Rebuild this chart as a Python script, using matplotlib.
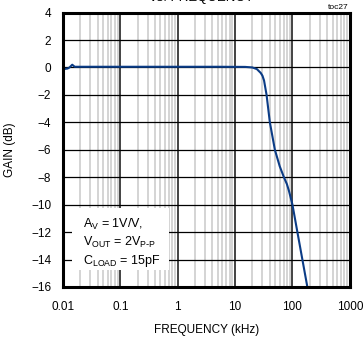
import numpy as np
import matplotlib.pyplot as plt
from matplotlib.ticker import FixedLocator, NullFormatter
from matplotlib.patches import Rectangle

plt.rcParams['font.family'] = ['Liberation Sans', 'DejaVu Sans']

# gain vs frequency
freq_khz = [0.010, 0.011, 0.012, 0.013, 0.0145, 0.016, 0.018, 0.03, 0.1, 1, 5,
            15, 20, 24, 28, 30, 32, 35.4, 40.4, 49.4, 60, 71, 80, 87,
            100, 122, 149, 182]
gain_db = [-0.15, -0.1, -0.08, 0.0, 0.2, 0.05, 0.05, 0.05, 0.05, 0.05, 0.05,
           0.04, 0.0, -0.12, -0.4, -0.6, -0.95, -2.0, -4.0, -6.0, -7.2, -8.0, -8.5, -9.0,
           -10.0, -12.0, -14.0, -16.0]

x_ticks = [0.01, 0.1, 1, 10, 100, 1000]
x_ticklabels = ['0.01', '0.1', '1', '10', '100', '1000']
y_ticks = [4, 2, 0, -2, -4, -6, -8, -10, -12, -14, -16]

note_lines = ['$\\mathregular{A_V}$ = 1V/V,',
              '$\\mathregular{V_{OUT}}$ = 2$\\mathregular{V_{P\\text{-}P}}$',
              '$\\mathregular{C_{LOAD}}$ = 15pF']

fig = plt.figure(figsize=(3.64, 3.40), dpi=100)
ax = fig.add_axes([0.173, 0.156, 0.788, 0.807])

ax.set_xscale('log')
ax.set_xlim(0.01, 1000)
ax.set_ylim(-16, 4)

# minor grid (light grey) then major grid (black)
minors = [m * 10.0 ** e for e in range(-2, 3) for m in range(2, 10)]
ax.xaxis.set_minor_locator(FixedLocator(minors))
ax.xaxis.set_minor_formatter(NullFormatter())
for m in minors:
    ax.axvline(m, color='#d4d4d4', lw=1.4, zorder=1)
for xt in x_ticks[1:-1]:
    ax.axvline(xt, color='#222222', lw=1.2, zorder=2)
for yt in y_ticks[1:-1]:
    ax.axhline(yt, color='black', lw=0.9, zorder=2)

ax.plot(freq_khz, gain_db, color='#0b3c86', lw=1.5, zorder=5)

ax.set_xticks(x_ticks)
ax.set_xticklabels(x_ticklabels)
ax.set_yticks(y_ticks)
ax.tick_params(which='both', length=0, labelsize=8.5)
ax.tick_params(axis='y', pad=8.5)
ax.tick_params(axis='x', pad=10)

for sp in ax.spines.values():
    sp.set_linewidth(2.2)
    sp.set_zorder(6)

ax.set_xlabel('FREQUENCY (kHz)', fontsize=8.5, labelpad=8)
ax.set_ylabel('GAIN (dB)', fontsize=8.5, labelpad=11)

# white note box over the grid
ax.add_patch(Rectangle((0.030, 0.062), 0.339, 0.226, transform=ax.transAxes,
                       facecolor='white', edgecolor='none', zorder=3))
for i, line in enumerate(note_lines):
    ax.text(0.070, 0.216 - i * 0.066, line, transform=ax.transAxes,
            fontsize=9, ha='left', va='baseline', zorder=4)

fig.text(0.555, 0.988, 'vs. FREQUENCY', fontsize=9.5, ha='center', va='bottom')
fig.text(0.957, 0.968, 'toc27', fontsize=6, ha='right', va='bottom')

fig.savefig('out.png', dpi=100)
